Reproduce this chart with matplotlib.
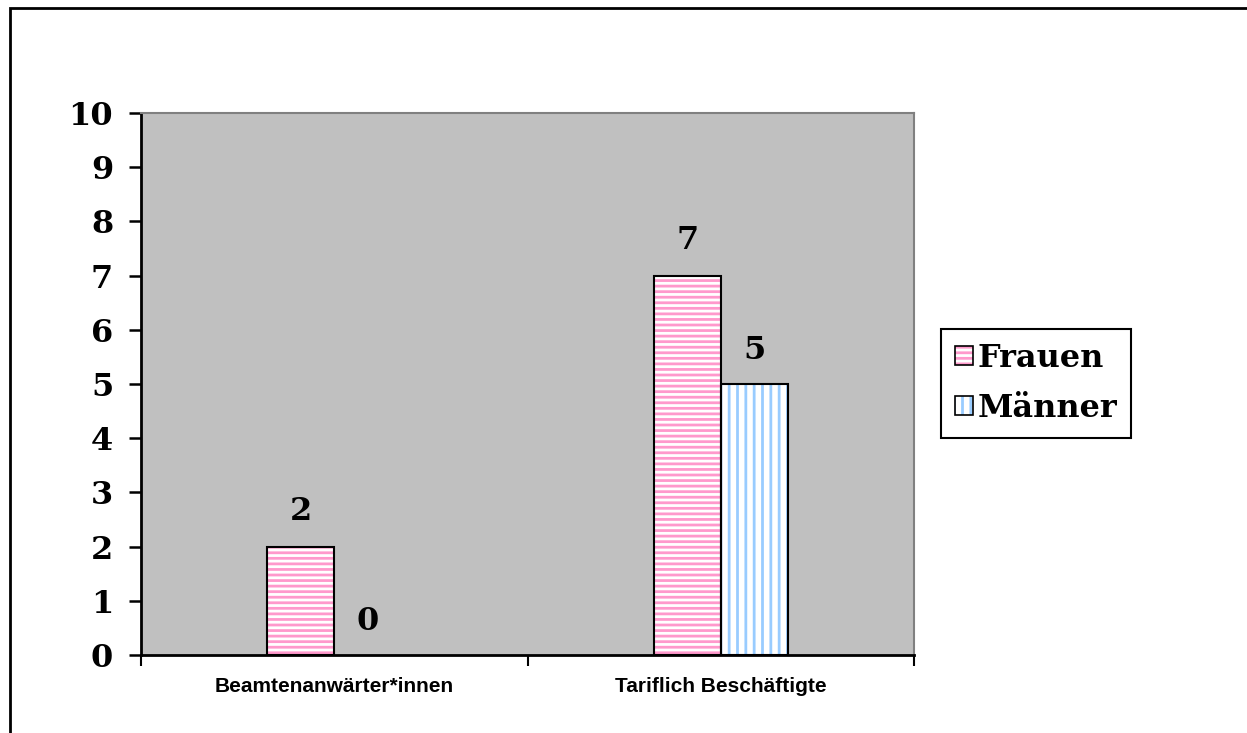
import matplotlib.pyplot as plt
import numpy as np
from matplotlib.patches import Patch, Rectangle

# data
categories = ['Beamtenanwärter*innen', 'Tariflich Beschäftigte']
frauen = [2, 7]
maenner = [0, 5]
series_names = ['Frauen', 'Männer']

pink = '#FF99CC'
blue = '#99CCFF'

plt.rcParams['hatch.linewidth'] = 2.0

fig = plt.figure(figsize=(12.47, 7.33), dpi=100)
ax = fig.add_axes([141 / 1247, 78 / 733, 773 / 1247, 542 / 733])
ax.set_facecolor('#C0C0C0')

x = np.arange(len(categories))
w = 0.173

# striped fill, then black outline on top
ax.bar(x - w / 2, frauen, w, color='white', edgecolor=pink, hatch='---', linewidth=0)
ax.bar(x + w / 2, maenner, w, color='white', edgecolor=blue, hatch='||', linewidth=0)
ax.bar(x - w / 2, frauen, w, fill=False, edgecolor='black', linewidth=1.5)
ax.bar([xi + w / 2 for xi, v in zip(x, maenner) if v > 0], [v for v in maenner if v > 0], w,
       fill=False, edgecolor='black', linewidth=1.5)

# value labels
for xi, v in zip(x, frauen):
    ax.annotate(str(v), (xi - w / 2, v), xytext=(0, 25), textcoords='offset points',
                ha='center', va='center', fontsize=23, fontweight='bold', family='DejaVu Serif')
for xi, v in zip(x, maenner):
    ax.annotate(str(v), (xi + w / 2, v), xytext=(0, 24), textcoords='offset points',
                ha='center', va='center', fontsize=23, fontweight='bold', family='DejaVu Serif')

ax.set_xlim(-0.5, 1.5)
ax.set_ylim(0, 10)
ax.set_yticks(range(0, 11))
ax.set_xticks([-0.5, 0.5, 1.5])
ax.set_xticklabels([])
ax.set_xticks(x, minor=True)
ax.set_xticklabels(categories, minor=True, fontsize=15, fontweight='bold', family='Liberation Sans')
ax.tick_params(axis='x', which='minor', length=0, pad=16)
ax.tick_params(axis='x', which='major', direction='out', length=8, width=1.5)
ax.tick_params(axis='y', direction='out', length=9, width=1.8, pad=11)
for lab in ax.get_yticklabels():
    lab.set_fontsize(23)
    lab.set_fontweight('bold')
    lab.set_family('DejaVu Serif')

for s in ['left', 'bottom']:
    ax.spines[s].set_linewidth(2)
    ax.spines[s].set_color('black')
for s in ['top', 'right']:
    ax.spines[s].set_linewidth(1.5)
    ax.spines[s].set_color('#808080')

# legend
handles = [
    (Patch(facecolor='white', edgecolor=pink, hatch='---', linewidth=0),
     Patch(facecolor='none', edgecolor='black', linewidth=1.2)),
    (Patch(facecolor='white', edgecolor=blue, hatch='||', linewidth=0),
     Patch(facecolor='none', edgecolor='black', linewidth=1.2)),
]
leg = fig.legend(handles, series_names, loc='center', bbox_to_anchor=(0.8308, 0.4768),
                 prop={'family': 'DejaVu Serif', 'weight': 'bold', 'size': 23},
                 handlelength=0.55, handleheight=0.55, handletextpad=0.15,
                 fancybox=False, framealpha=1, edgecolor='black', borderpad=0.45,
                 labelspacing=0.6, borderaxespad=0)
leg.get_frame().set_linewidth(1.5)

# outer frame of the chart
fig.patches.append(Rectangle((10 / 1247, -0.1), 1.2, 1.1 - 8 / 733, transform=fig.transFigure,
                             fill=False, edgecolor='black', linewidth=2))

fig.savefig('out.png', dpi=100)
